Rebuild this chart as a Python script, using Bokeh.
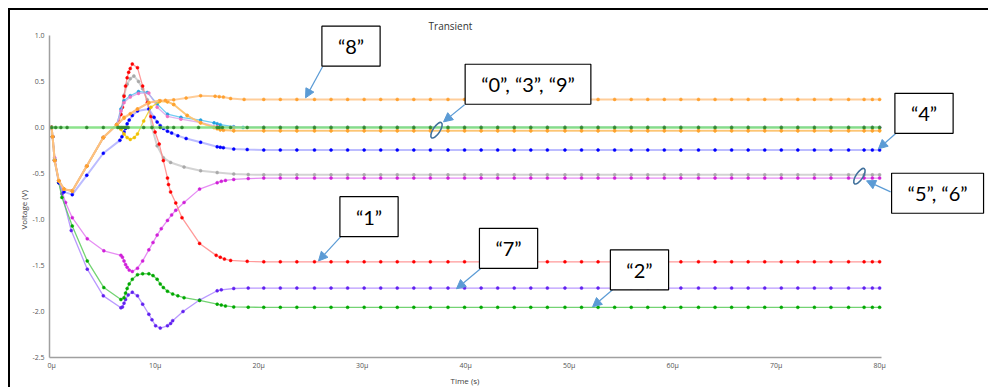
from bokeh.plotting import figure
from bokeh.models import FixedTicker, Label, Arrow, NormalHead, Range1d, Title
from bokeh.embed import file_html
from bokeh.resources import INLINE

# ---------------- data ----------------
x_ticks = [0, 10, 20, 30, 40, 50, 60, 70, 80]
x_tick_labels = ["0μ", "10μ", "20μ", "30μ", "40μ", "50μ", "60μ", "70μ", "80μ"]
y_ticks = [-2.5, -2.0, -1.5, -1.0, -0.5, 0.0, 0.5, 1.0]
y_tick_labels = ["-2.5", "-2.0", "-1.5", "-1.0", "-0.5", "0.0", "0.5", "1.0"]

# steady-state sample times (µs)
tail_t = [20.5, 22.1, 23.7, 25.4, 27.0, 28.6, 30.2, 31.8, 33.4, 35.0, 36.6, 38.3,
          39.9, 41.5, 43.1, 44.7, 46.3, 47.9, 49.6, 51.2, 52.8, 54.4, 56.0, 57.6,
          59.2, 60.8, 62.5, 64.1, 65.7, 67.3, 68.9, 70.5, 72.1, 73.7, 75.3, 77.0,
          78.5, 79.3, 80.0]

start_t = [0, 0.1, 0.3, 0.7, 1.2, 2.0, 3.4, 5.0, 6.3]
start_v = [0, -0.1, -0.36, -0.58, -0.67, -0.69, -0.42, -0.11, 0.03]

red_t = start_t + [6.5, 6.7, 6.85, 7.0, 7.15, 7.3, 7.45, 7.6, 7.8, 8.3, 8.8, 9.25, 9.6, 10.0,
                   10.4, 10.8, 11.2, 11.3, 11.5, 12.0, 12.6, 14.3, 15.9, 16.3, 16.7, 17.3, 18.9]
red_v = start_v + [0.06, 0.14, 0.22, 0.34, 0.45, 0.54, 0.6, 0.64, 0.69, 0.65, 0.45, 0.27, 0.12,
                   -0.05, -0.18, -0.36, -0.55, -0.62, -0.7, -0.82, -0.98, -1.26, -1.39, -1.41,
                   -1.43, -1.445, -1.455]
red_final = -1.46

gray_t = start_t + [6.7, 7.0, 7.3, 7.6, 7.95, 8.4, 8.8, 9.25, 9.7, 10.2, 10.8, 11.5, 12.8,
                    14.4, 16.0, 17.6, 19.0]
gray_v = start_v + [0.15, 0.35, 0.47, 0.53, 0.56, 0.5, 0.42, 0.3, 0.0, -0.2, -0.33, -0.38,
                    -0.43, -0.47, -0.49, -0.505, -0.512]
gray_final = -0.515

mag_t = [0, 0.1, 0.3, 0.7, 1.35, 2.0, 3.45, 5.05, 6.7, 6.85, 7.0, 7.15, 7.3, 7.5, 7.8, 8.3,
         8.8, 9.4, 9.8, 10.2, 10.6, 11.2, 11.6, 12.0, 12.8, 14.3, 16.0, 16.4, 16.8, 17.6, 19.0]
mag_v = [0, -0.1, -0.33, -0.58, -0.815, -0.98, -1.21, -1.34, -1.39, -1.41, -1.45, -1.49,
         -1.52, -1.55, -1.565, -1.53, -1.45, -1.33, -1.25, -1.17, -1.1, -1.01, -0.95, -0.9,
         -0.815, -0.67, -0.6, -0.585, -0.575, -0.565, -0.555]
mag_final = -0.55

grn_t = [0, 0.1, 0.3, 0.7, 1.0, 2.0, 3.45, 5.05, 6.7, 7.0, 7.15, 7.3, 7.5, 7.8, 8.3, 8.8,
         9.4, 9.8, 10.2, 10.5, 10.8, 11.2, 11.7, 12.2, 12.8, 14.3, 16.0, 16.4, 16.8, 17.6, 19.0]
grn_v = [0, -0.1, -0.35, -0.6, -0.76, -1.07, -1.45, -1.74, -1.87, -1.85, -1.8, -1.75, -1.7,
         -1.65, -1.6, -1.59, -1.59, -1.61, -1.65, -1.7, -1.74, -1.78, -1.81, -1.83, -1.85,
         -1.88, -1.92, -1.93, -1.94, -1.95, -1.953]
grn_final = -1.955

vio_t = [0, 0.1, 0.3, 0.7, 1.0, 1.9, 3.45, 5.0, 6.7, 6.85, 7.0, 7.15, 7.4, 7.8, 8.3, 8.8,
         9.4, 9.7, 10.05, 10.5, 11.2, 11.5, 11.7, 12.7, 14.3, 16.0, 16.4, 17.6, 19.0]
vio_v = [0, -0.1, -0.35, -0.6, -0.72, -1.12, -1.54, -1.83, -1.96, -1.95, -1.91, -1.87, -1.82,
         -1.79, -1.83, -1.92, -2.03, -2.09, -2.155, -2.18, -2.155, -2.13, -2.1, -2.0, -1.876,
         -1.775, -1.765, -1.75, -1.745]
vio_final = -1.745

blue_t = [0, 0.1, 0.3, 0.7, 1.2, 2.0, 3.4, 5.0, 6.6, 6.8, 7.0, 7.15, 7.3, 7.5, 7.8, 8.3, 9.4,
          9.9, 10.2, 10.5, 10.8, 11.2, 11.6, 12.2, 13.0, 14.4, 16.0, 16.3, 16.6, 17.6, 18.9]
blue_v = [0, -0.1, -0.36, -0.6, -0.7, -0.73, -0.52, -0.28, -0.14, -0.1, -0.05, -0.01, 0.04,
          0.08, 0.13, 0.18, 0.2, 0.11, 0.06, 0.02, -0.01, -0.04, -0.06, -0.09, -0.12, -0.16,
          -0.21, -0.215, -0.22, -0.235, -0.24]
blue_final = -0.245

or8_t = start_t + [7.0, 7.6, 8.3, 9.4, 10.5, 11.0, 11.8, 13.0, 14.4, 15.8, 16.2, 16.6, 17.3, 18.6]
or8_v = start_v + [0.11, 0.15, 0.2, 0.27, 0.29, 0.295, 0.3, 0.32, 0.345, 0.34, 0.335, 0.33,
                   0.315, 0.305]
or8_final = 0.305

or2_t = start_t + [7.0, 8.3, 9.4, 10.4, 11.2, 11.8, 13.1, 14.4, 15.7, 16.0, 16.3, 16.6, 17.6]
or2_v = start_v + [0.1, 0.2, 0.27, 0.29, 0.28, 0.25, 0.13, 0.05, 0.0, -0.015, -0.025, -0.03,
                   -0.035]
or2_final = -0.035

yel_t = start_t + [6.7, 7.0, 7.3, 7.6, 8.0, 8.3, 8.9, 9.6, 10.4, 11.2, 11.8, 13.1, 14.4, 15.7,
                   16.3, 17.6]
yel_v = start_v + [-0.02, -0.07, -0.11, -0.13, -0.11, -0.07, 0.07, 0.22, 0.28, 0.28, 0.25,
                   0.13, 0.05, 0.0, -0.025, -0.035]
yel_final = -0.035

cyan_t = start_t + [6.7, 7.0, 7.6, 8.4, 9.25, 10.2, 11.2, 12.5, 14.4, 15.7, 16.0, 16.3, 17.6, 18.5]
cyan_v = start_v + [0.2, 0.29, 0.345, 0.39, 0.38, 0.255, 0.145, 0.11, 0.08, 0.05, 0.04, 0.03,
                    0.008, 0.0]
cyan_final = 0.0

pink_t = start_t + [6.7, 7.0, 7.6, 8.4, 9.4, 10.2, 11.2, 12.5, 14.4, 16.0, 17.6]
pink_v = start_v + [0.18, 0.27, 0.33, 0.37, 0.375, 0.22, 0.12, 0.09, 0.054, 0.01, 0.0]
pink_final = 0.0

g0_t = [0, 0.4, 0.9, 1.5, 3.4, 5.0, 6.4, 6.6, 6.8, 7.0, 7.2, 7.4, 8.9, 9.7, 10.5, 11.2, 11.8,
        12.6, 14.2, 16.0, 16.2, 16.5, 17.3, 18.9]
g0_v = [0, 0, 0, 0, 0, 0, 0, 0, 0, 0, 0, 0, 0, 0, 0, 0, 0, 0, 0, 0, 0, 0, 0, 0]
g0_final = 0.0

# series: (t, v, final, line colour, dot colour, line width, line alpha)
series = [
    (gray_t, gray_v, gray_final, "#c0c0c0", "#a8a8a8", 2.0, 0.7),
    (mag_t, mag_v, mag_final, "#e070f0", "#d020d8", 1.3, 0.8),
    (red_t, red_v, red_final, "#ff8080", "#ff0000", 1.3, 0.8),
    (vio_t, vio_v, vio_final, "#a880ff", "#6020f0", 1.3, 0.8),
    (grn_t, grn_v, grn_final, "#50c850", "#00a800", 1.3, 0.8),
    (blue_t, blue_v, blue_final, "#9090ff", "#0000ff", 2.0, 0.6),
    (cyan_t, cyan_v, cyan_final, "#50c0f0", "#20a0e0", 1.3, 0.8),
    (pink_t, pink_v, pink_final, "#d8a0e8", "#f070c0", 1.3, 0.8),
    (yel_t, yel_v, yel_final, "#f0d030", "#f0c000", 1.3, 0.9),
    (or2_t, or2_v, or2_final, "#ffc080", "#ffa030", 2.0, 0.8),
    (or8_t, or8_v, or8_final, "#ffc080", "#ffa030", 2.0, 0.8),
    (g0_t, g0_v, g0_final, "#80e080", "#308a30", 2.5, 0.9),
]

# annotation callouts: text, centre time, centre voltage
title_text = "Transient"
title_t, title_v = 38.54, 1.10
x_label = "Time (s)"
y_label = "Voltage (V)"
callout_text = ["“8”", "“0”, “3”, “9”", "“4”", "“5”, “6”", "“1”", "“7”", "“2”"]
callout_t = [28.93, 46.03, 84.29, 85.6, 30.67, 44.15, 56.8]
callout_v = [0.883, 0.47, 0.154, -0.715, -0.97, -1.313, -1.547]
arrow_t0 = [26.18, 39.9, 81.53, 81.06, 27.92, 41.44, 54.2]
arrow_v0 = [0.66, 0.246, -0.068, -0.70, -1.19, -1.536, -1.764]
arrow_t1 = [24.54, 37.87, 79.89, 78.74, 25.79, 39.12, 52.27]
arrow_v1 = [0.322, 0.061, -0.232, -0.58, -1.45, -1.753, -1.949]
ellipse_t = [37.19, 78.05]
ellipse_v = [-0.03, -0.53]

# ---------------- figure ----------------
FONT = "Open Sans"
p = figure(width=980, height=379, output_backend="svg", toolbar_location=None,
           x_range=Range1d(-0.2, 90.52), y_range=Range1d(-2.5, 1.293),
           min_border_left=41, min_border_right=0, min_border_top=0, min_border_bottom=30)
p.styles = {"box-shadow": "inset 2px 2px 0 0 #000000", "background-color": "#ffffff",
            "margin-left": "8px", "margin-top": "8px"}
p.border_fill_alpha = 0
p.background_fill_alpha = 0
p.outline_line_color = None
p.grid.visible = False

for ax in (p.xaxis[0], p.yaxis[0]):
    ax.axis_line_color = "#a0a0a0"
    ax.axis_line_width = 1.5
    ax.major_tick_line_color = None
    ax.minor_tick_line_color = None
    ax.major_tick_out = 0
    ax.major_tick_in = 0
    ax.minor_tick_out = 0
    ax.minor_tick_in = 0
    ax.major_label_text_font = FONT
    ax.major_label_text_font_size = "7px"
    ax.major_label_text_color = "#555555"

p.xaxis.ticker = FixedTicker(ticks=x_ticks)
p.xaxis.major_label_overrides = dict(zip(x_ticks, x_tick_labels))
p.xaxis.bounds = (-0.2, 80.2)
p.xaxis.major_label_standoff = 3
p.yaxis.ticker = FixedTicker(ticks=y_ticks)
p.yaxis.major_label_overrides = dict(zip(y_ticks, y_tick_labels))
p.yaxis.bounds = (-2.5, 1.0)
p.yaxis.major_label_standoff = 5

# axis titles as side-panel titles so they can be centred on the drawn axes
p.add_layout(Title(text=x_label, align="left", offset=401, standoff=0,
                   text_font=FONT, text_font_size="8px", text_font_style="normal",
                   text_color="#404040"), "below")
p.add_layout(Title(text=y_label, align="left", offset=128, standoff=2,
                   text_font=FONT, text_font_size="8px", text_font_style="normal",
                   text_color="#404040"), "left")

for t, v, final, lc, dc, lw, la in series:
    xs = list(t) + tail_t
    ys = list(v) + [final] * len(tail_t)
    p.line(xs, ys, line_color=lc, line_width=lw, line_alpha=la)
    p.scatter(xs, ys, size=3, fill_color=dc, line_color=dc, line_width=0.5)

p.add_layout(Label(x=title_t, y=title_v, text=title_text, text_align="center",
                   text_baseline="middle", text_font=FONT, text_font_size="10px",
                   text_color="#333333"))

ARROW_C = "#5b9bd5"
for t0, v0, t1, v1 in zip(arrow_t0, arrow_v0, arrow_t1, arrow_v1):
    p.add_layout(Arrow(end=NormalHead(size=9, fill_color=ARROW_C, line_color=ARROW_C),
                       x_start=t0, y_start=v0, x_end=t1, y_end=v1,
                       line_color=ARROW_C, line_width=1.2))

p.ellipse(x=ellipse_t, y=ellipse_v, width=18, height=7, angle=1.0,
          width_units="screen", height_units="screen",
          fill_color=None, line_color="#41719c", line_width=1.6)

for txt, t, v in zip(callout_text, callout_t, callout_v):
    p.add_layout(Label(x=t, y=v, text=txt, text_align="center", text_baseline="middle",
                       text_font="Lato", text_font_size="20px", text_color="#000000",
                       background_fill_color="#ffffff", border_line_color="#000000",
                       border_line_width=1.2, padding=(16, 8)))

open("out.html", "w").write(file_html(p, INLINE))
